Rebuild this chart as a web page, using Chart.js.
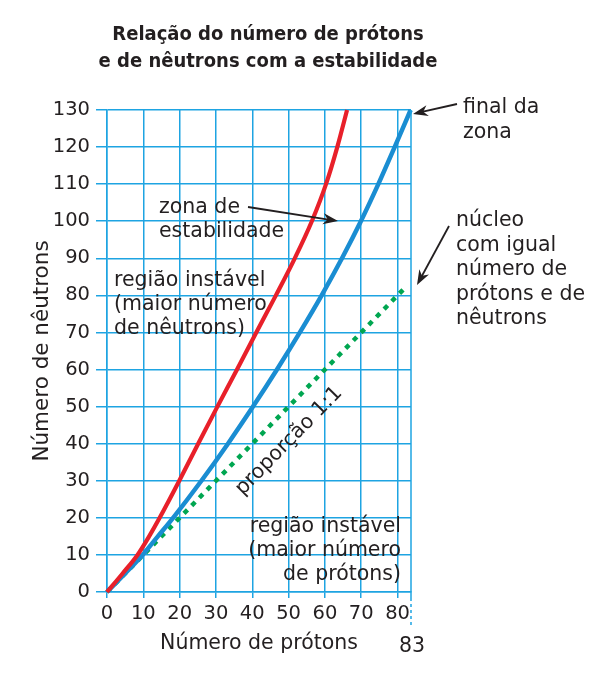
<!DOCTYPE html>
<html>
<head>
<meta charset="utf-8">
<script src="https://cdn.jsdelivr.net/npm/chart.js@4.4.1/dist/chart.umd.min.js"></script>
<style>
  html, body { margin: 0; padding: 0; background: #fff; }
  #wrap { width: 602px; height: 687px; }
</style>
</head>
<body>
<div id="wrap"><canvas id="chart" width="602" height="687"></canvas></div>
<script>
// data
var titleLines = ['Relação do número de prótons', 'e de nêutrons com a estabilidade'];
var xTitle = 'Número de prótons';
var yTitle = 'Número de nêutrons';
var xMax = 83.7;     // right edge of the zone (labelled 83)
var xEdgeLabel = '83';
var yMax = 130;

var neutronSteps = [0, 5, 10, 15, 20, 30, 40, 50, 60, 70, 80, 90, 100, 110, 120, 130];
// upper (red) limit of the stability zone
var redProtons  = [0, 4.3, 8.4, 11.6, 14.5, 19.9, 25.1, 30.4, 35.8, 41.1, 46.5, 51.7, 56.4, 60.3, 63.4, 66.1];
// lower (blue) limit of the stability zone
var blueProtons = [0, 5.0, 9.8, 14.0, 18.2, 26.0, 33.3, 40.2, 46.8, 53.1, 59.1, 64.7, 69.9, 74.7, 79.2, 83.6];
// 1:1 proportion line
var equalProtons  = [0, 82.3];
var equalNeutrons = [0, 82.3];

var GRID = '#1ea4e2';
var TEXT = '#231f20';
var FONT = '"DejaVu Sans", Verdana, sans-serif';

function toPoints(xs, ys) {
  return xs.map(function (x, i) { return { x: x, y: ys[i] }; });
}

function arrow(ctx, x1, y1, x2, y2) {
  var a = Math.atan2(y2 - y1, x2 - x1);
  var len = 15, half = 5.5;
  ctx.save();
  ctx.strokeStyle = TEXT;
  ctx.fillStyle = TEXT;
  ctx.lineWidth = 1.8;
  ctx.beginPath();
  ctx.moveTo(x1, y1);
  ctx.lineTo(x2 - Math.cos(a) * 8, y2 - Math.sin(a) * 8);
  ctx.stroke();
  ctx.translate(x2, y2);
  ctx.rotate(a);
  ctx.beginPath();
  ctx.moveTo(0, 0);
  ctx.lineTo(-len, -half);
  ctx.lineTo(-len * 0.7, 0);
  ctx.lineTo(-len, half);
  ctx.closePath();
  ctx.fill();
  ctx.restore();
}

function lines(ctx, arr, x, y0, step) {
  arr.forEach(function (t, i) { ctx.fillText(t, x, y0 + i * step); });
}

var notes = {
  id: 'notes',
  afterDraw: function (chart) {
    var ctx = chart.ctx;
    var xs = chart.scales.x, ys = chart.scales.y;
    var edge = xs.getPixelForValue(xMax);

    ctx.save();
    // right edge of the grid, dashed below the axis
    ctx.strokeStyle = GRID;
    ctx.lineWidth = 1.5;
    ctx.beginPath();
    ctx.moveTo(edge, ys.getPixelForValue(yMax));
    ctx.lineTo(edge, ys.getPixelForValue(0) + 6);
    ctx.stroke();
    ctx.setLineDash([3, 3]);
    ctx.beginPath();
    ctx.moveTo(edge, ys.getPixelForValue(0) + 6);
    ctx.lineTo(edge, 626);
    ctx.stroke();
    ctx.setLineDash([]);

    // title
    ctx.fillStyle = TEXT;
    ctx.textAlign = 'center';
    ctx.textBaseline = 'alphabetic';
    ctx.font = 'bold 20px "DejaVu Sans Condensed", "DejaVu Sans", sans-serif';
    ctx.fillText(titleLines[0], 268, 40);
    ctx.fillText(titleLines[1], 268, 67);

    ctx.font = '20.5px ' + FONT;
    ctx.fillText(xEdgeLabel, 412, 652);

    ctx.textAlign = 'left';
    lines(ctx, ['final da', 'zona'], 463, 113, 25);
    lines(ctx, ['zona de', 'estabilidade'], 159, 213, 24);
    lines(ctx, ['núcleo', 'com igual', 'número de', 'prótons e de', 'nêutrons'], 456, 226, 24.6);
    lines(ctx, ['região instável', '(maior número', 'de nêutrons)'], 114, 286, 24);
    ctx.textAlign = 'right';
    lines(ctx, ['região instável', '(maior número', 'de prótons)'], 401, 532, 24);

    // rotated label along the 1:1 line
    ctx.save();
    ctx.translate(289, 441);
    ctx.rotate(-45.5 * Math.PI / 180);
    ctx.textAlign = 'center';
    ctx.textBaseline = 'middle';
    ctx.fillText('proporção 1:1', 0, 0);
    ctx.restore();

    arrow(ctx, 457, 104, 413, 114);
    arrow(ctx, 248, 207, 338, 221);
    arrow(ctx, 449, 226, 417, 285);
    ctx.restore();
  }
};

new Chart(document.getElementById('chart'), {
  type: 'line',
  data: {
    datasets: [
      {
        label: 'limite superior',
        data: toPoints(redProtons, neutronSteps),
        borderColor: '#e8202a',
        borderWidth: 4.2,
        pointRadius: 0,
        cubicInterpolationMode: 'monotone',
        order: 0
      },
      {
        label: 'limite inferior',
        data: toPoints(blueProtons, neutronSteps),
        borderColor: '#1a8dd2',
        borderWidth: 4.5,
        pointRadius: 0,
        cubicInterpolationMode: 'monotone',
        order: 1
      },
      {
        label: 'proporção 1:1',
        data: toPoints(equalProtons, equalNeutrons),
        borderColor: '#00a651',
        borderWidth: 4.5,
        borderDash: [5, 6],
        pointRadius: 0,
        order: 2
      }
    ]
  },
  options: {
    responsive: false,
    devicePixelRatio: 1,
    animation: false,
    clip: false,
    layout: { padding: { top: 110, right: 191, bottom: 0, left: 0 } },
    plugins: {
      legend: { display: false },
      tooltip: { enabled: false }
    },
    scales: {
      x: {
        type: 'linear',
        min: 0,
        max: xMax,
        afterFit: function (s) { s.height = 95; },
        ticks: {
          stepSize: 10,
          includeBounds: false,
          color: TEXT,
          font: { family: FONT, size: 19.5 },
          padding: 4,
          maxRotation: 0
        },
        grid: { color: GRID, lineWidth: 1.5, tickLength: 6 },
        border: { color: GRID, width: 1.5 },
        title: {
          display: true,
          text: xTitle,
          color: TEXT,
          font: { family: FONT, size: 20.5 },
          padding: { top: 0, bottom: 31 }
        }
      },
      y: {
        type: 'linear',
        min: 0,
        max: yMax,
        afterFit: function (s) { s.width = 107; },
        ticks: {
          stepSize: 10,
          color: TEXT,
          font: { family: FONT, size: 19.5 },
          padding: 6
        },
        grid: { color: GRID, lineWidth: 1.5, tickLength: 11 },
        border: { color: GRID, width: 1.5 },
        title: {
          display: true,
          text: yTitle,
          color: TEXT,
          font: { family: FONT, size: 21.5 },
          padding: { top: 30, bottom: 0 }
        }
      }
    }
  },
  plugins: [notes]
});
</script>
</body>
</html>
